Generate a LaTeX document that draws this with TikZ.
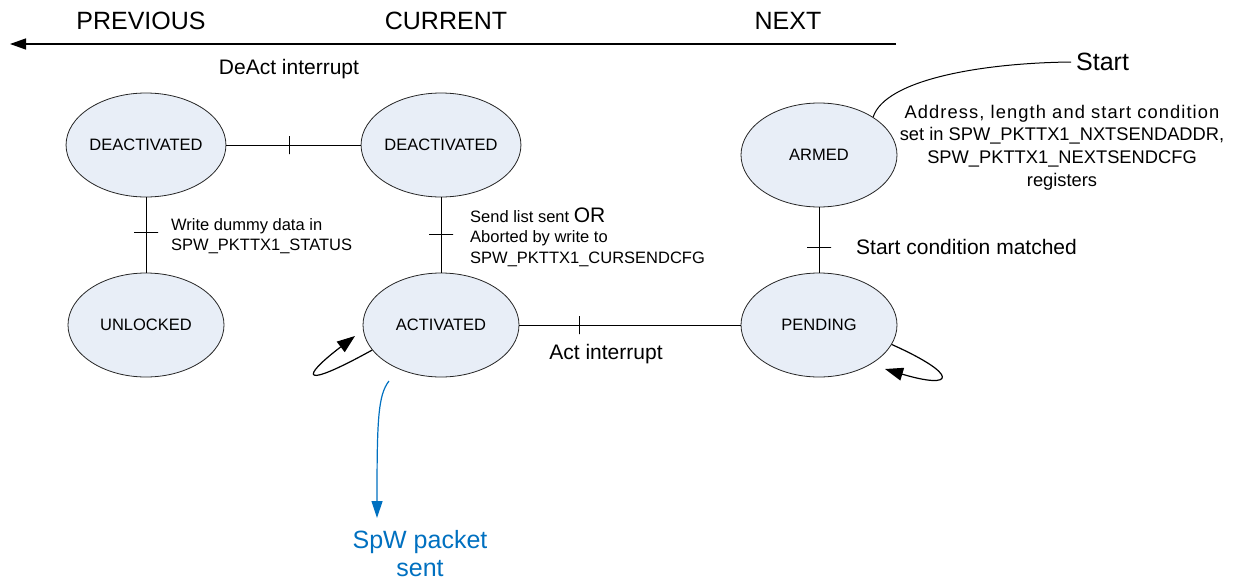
\documentclass[tikz,border=0pt]{standalone}
\usepackage{fontspec}
\setmainfont{Liberation Sans}
\usetikzlibrary{arrows.meta,shapes.geometric}
\definecolor{stfill}{RGB}{232,238,247}
\definecolor{pktblue}{RGB}{0,112,192}

\begin{document}
\begin{tikzpicture}[
  x=1pt, y=-1pt,
  state/.style={ellipse, draw=black!85, line width=0.8pt, fill=stfill, minimum width=156pt, minimum height=104pt, inner sep=0pt, font=\fontsize{16.5}{20}\selectfont},
  link/.style={draw=black, line width=1pt},
  tickmark/.style={draw=black, line width=1pt, sloped, minimum width=0pt, minimum height=#1, inner sep=0pt, outer sep=0pt},
  tickmark/.default=18pt,
  lbl/.style={font=\fontsize{16.5}{20.5}\selectfont, inner sep=0pt, align=left},
  evt/.style={font=\fontsize{21}{24}\selectfont, inner sep=0pt},
  head/.style={font=\fontsize{25}{28}\selectfont, inner sep=0pt},
  timeline/.style={draw=black, line width=1.3pt, -{Triangle[length=16pt,width=11pt]}},
  selfloop/.style={draw=black, line width=1.2pt, -{Triangle[length=18pt,width=13pt]}},
  pktflow/.style={draw=pktblue, line width=1.2pt, -{Triangle[length=17pt,width=11pt]}}
]
\useasboundingbox (0,0) rectangle (1244,581);

% Column headers and the time arrow.
\node[head] (hprev) at (141,21) {PREVIOUS};
\node[head] (hcur) at (446,21) {CURRENT};
\node[head] (hnext) at (788,21) {NEXT};
\coordinate (tlstart) at (896,44);
\coordinate (tlend) at (10,44);
\draw[timeline] (tlstart) -- (tlend);
\node[evt] (deact) at (289,69) {DeAct interrupt};

% States.
\node[state] (deprev) at (146,145) {DEACTIVATED};
\node[state] (decur) at (441,145) {DEACTIVATED};
\node[state] (armed) at (819,155) {ARMED};
\node[state] (unlock) at (146,325) {UNLOCKED};
\node[state] (act) at (441,325) {ACTIVATED};
\node[state] (pend) at (819,325) {PENDING};

% Transitions, each with its cross mark.
\draw[link] (deprev) -- node[tickmark, pos=0.47] {} (decur);
\draw[link] (deprev) -- node[tickmark=24pt, pos=0.47] {} (unlock);
\draw[link] (decur) -- node[tickmark=24pt, pos=0.49] {} (act);
\draw[link] (armed) -- node[tickmark=24pt, pos=0.62] {} (pend);
\draw[link] (act) -- node[tickmark, pos=0.27] {} (pend);

\node[lbl, anchor=west] (dummy) at (171,236) {Write dummy data in\\SPW\_PKTTX1\_STATUS};
\node[lbl, anchor=west] (sent) at (470,237) {Send list sent {\fontsize{21}{21}\selectfont OR}\\Aborted by write to\\SPW\_PKTTX1\_CURSENDCFG};
\node[evt] (actint) at (606,354) {Act interrupt};
\node[evt, anchor=west] (match) at (856,247) {Start condition matched};

% Entry into ARMED.
\node[head, anchor=west, inner sep=5pt] (start) at (1071,62) {Start};
\draw[link] (start.west) .. controls (980,63) and (885,80) .. (armed.35);
\node[font=\fontsize{18.3}{22.7}\selectfont, align=center, inner sep=0pt] (cfg) at (1062,147.5)
  {{\addfontfeature{LetterSpace=6}Address, length and start condition}\\set in SPW\_PKTTX1\_NXTSENDADDR,\\SPW\_PKTTX1\_NEXTSENDCFG\\registers};

% Self loops.
\coordinate (actin) at (355,336);
\draw[selfloop] (act.200) .. controls (300,390) and (300,378) .. (actin);
\coordinate (pendin) at (885,369);
\draw[selfloop] (pend.345) .. controls (960,375) and (955,390) .. (pendin);

% Packet output.
\coordinate (pktfrom) at (389,381);
\coordinate (pktto) at (377,518);
\draw[pktflow] (pktfrom) .. controls (378,395) and (377,420) .. (pktto);
\node[head, text=pktblue, align=center, font=\fontsize{25}{28}\selectfont] (pkt) at (420,554) {SpW packet\\sent};

\end{tikzpicture}
\end{document}
